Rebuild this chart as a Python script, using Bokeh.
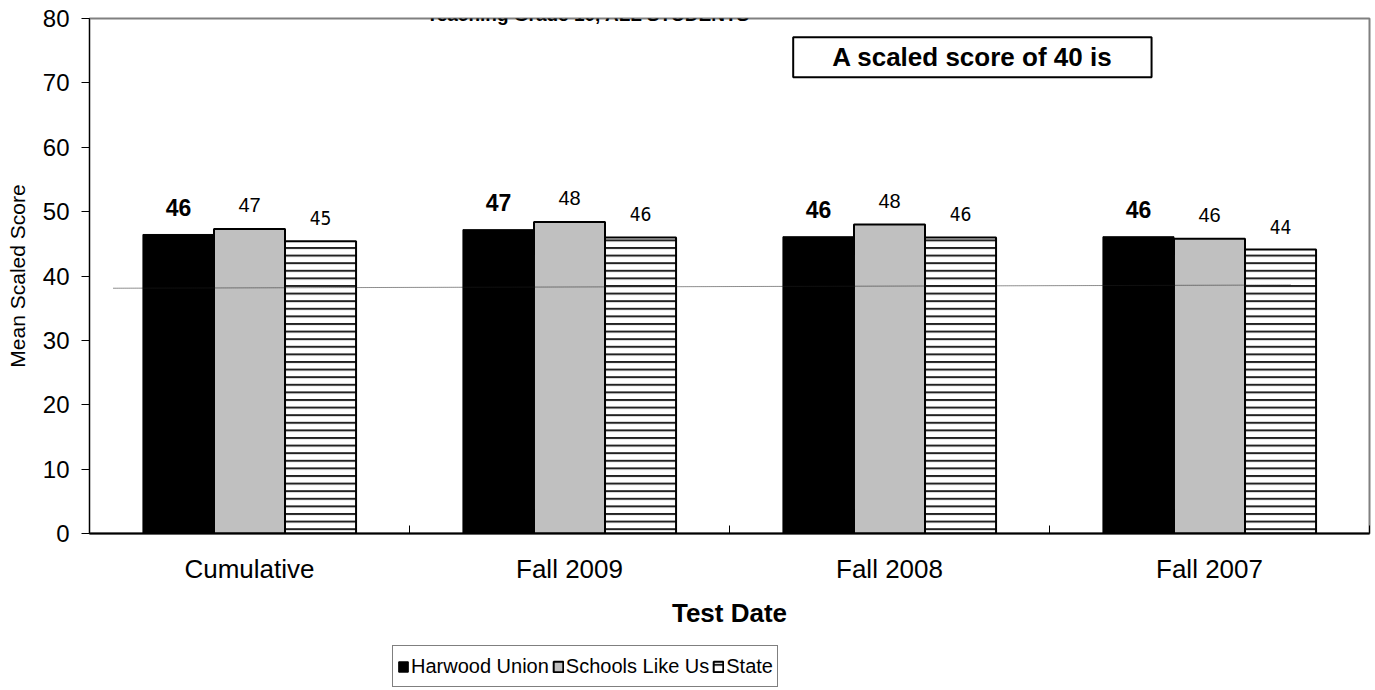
from bokeh.plotting import figure
from bokeh.layouts import column
from bokeh.models import Range1d, FixedTicker, Label, Legend, LegendItem, ColumnDataSource
from bokeh.core.properties import value
from bokeh.embed import file_html
from bokeh.resources import INLINE

# ---- data ----
categories = ["Cumulative", "Fall 2009", "Fall 2008", "Fall 2007"]
harwood = [46.45, 47.2, 46.1, 46.1]
schools = [47.3, 48.4, 48.0, 45.8]
state = [45.4, 46.0, 46.0, 44.1]
harwood_labels = ["46", "47", "46", "46"]
schools_labels = ["47", "48", "48", "46"]
state_labels = ["45", "46", "46", "44"]
series_names = ["Harwood Union", "Schools Like Us", "State"]
ref_x = [0.075, 3.753]
ref_y = [38.1, 38.6]
y_ticks = [0, 10, 20, 30, 40, 50, 60, 70, 80]
title_text = "Teaching Grade 10, ALL STUDENTS"
note_text = "A scaled score of 40 is"

FONT = "Liberation Sans"
NARROW = "'Liberation Sans Narrow', 'DejaVu Sans Condensed', 'Roboto Condensed', 'Liberation Sans', sans-serif"
BW = 0.222
centers = [i + 0.5 for i in range(len(categories))]
bounds = list(range(len(categories) + 1))

H_STYLE = dict(fill_color="black", line_color="black", line_width=1)
S_STYLE = dict(fill_color="#C0C0C0", line_color="black", line_width=2)
T_STYLE = dict(fill_color="white", line_color="black", line_width=2,
               hatch_pattern="horizontal_line", hatch_color="#222222",
               hatch_weight=2, hatch_scale=7.6)

p = figure(width=1372, height=640, output_backend="svg", toolbar_location=None,
           x_range=Range1d(0, len(categories)), y_range=Range1d(0, 80),
           min_border_left=89, min_border_right=3, min_border_top=18, min_border_bottom=107)
p.background_fill_color = "white"
p.border_fill_color = "white"
p.grid.visible = False
p.outline_line_color = "#808080"
p.outline_line_width = 2

def src(vals, labels, off):
    return ColumnDataSource(dict(x=[c + off for c in centers], top=vals, lab=labels))

s_h = src(harwood, harwood_labels, -BW)
s_s = src(schools, schools_labels, 0)
s_t = src(state, state_labels, BW)

p.vbar(x="x", top="top", width=BW, bottom=0, source=s_h, **H_STYLE)
p.vbar(x="x", top="top", width=BW, bottom=0, source=s_s, **S_STYLE)
p.vbar(x="x", top="top", width=BW, bottom=0, source=s_t, **T_STYLE)

p.line(ref_x, ref_y, line_color="#202020", line_width=1, line_dash="1 1")

p.text(x="x", y="top", text="lab", source=s_h, text_align="center", text_baseline="middle",
       y_offset=-27, text_font=value(FONT), text_font_style="bold", text_font_size="23px",
       text_color="black")
p.text(x="x", y="top", text="lab", source=s_s, text_align="center", text_baseline="middle",
       y_offset=-24, text_font=value(FONT), text_font_size="20px", text_color="black")
p.text(x="x", y="top", text="lab", source=s_t, text_align="center", text_baseline="middle",
       y_offset=-23, text_font=value(NARROW), text_font_size="19px", text_color="black")

# axes
ya = p.yaxis[0]
ya.ticker = FixedTicker(ticks=y_ticks)
ya.minor_tick_line_color = None
ya.major_tick_out = 8
ya.major_tick_in = 0
ya.major_tick_line_color = "black"
ya.axis_line_color = "black"
ya.major_label_text_font = FONT
ya.major_label_text_font_size = "24px"
ya.major_label_text_color = "black"
ya.major_label_standoff = 12
ya.axis_label = "Mean Scaled Score"
ya.axis_label_text_font = FONT
ya.axis_label_text_font_style = "normal"
ya.axis_label_text_font_size = "21px"
ya.axis_label_text_color = "black"
ya.axis_label_standoff = 11

xa = p.xaxis[0]
xa.ticker = FixedTicker(ticks=centers, minor_ticks=bounds)
xa.major_label_overrides = {c: n for c, n in zip(centers, categories)}
xa.major_tick_out = 0
xa.major_tick_in = 0
xa.minor_tick_in = 8
xa.minor_tick_out = 0
xa.minor_tick_line_color = "black"
xa.axis_line_color = "black"
xa.axis_line_width = 2
xa.major_label_text_font = FONT
xa.major_label_text_font_size = "26px"
xa.major_label_text_color = "black"
xa.major_label_standoff = 20
xa.axis_label = "Test Date"
xa.axis_label_text_font = FONT
xa.axis_label_text_font_style = "bold"
xa.axis_label_text_font_size = "26px"
xa.axis_label_text_color = "black"
xa.axis_label_standoff = 11

# title
p.add_layout(Label(x=1.559, y=80.62, text=title_text, text_align="center",
                   text_baseline="alphabetic", text_font=FONT, text_font_style="bold",
                   text_font_size="19px", text_color="black"))

# note box
p.add_layout(Label(x=2.759, y=74.0, text=note_text, text_align="center",
                   text_baseline="middle", text_font=FONT, text_font_style="bold",
                   text_font_size="26px", text_color="black",
                   border_line_color="black", border_line_width=2,
                   background_fill_color="white",
                   padding=dict(left=39, right=39, top=5, bottom=5)))

# ---- legend strip (swatch renderers sit hidden behind the legend box) ----
q = figure(width=1372, height=50, output_backend="svg", toolbar_location=None,
           x_range=Range1d(0, 1), y_range=Range1d(0, 1),
           min_border_left=0, min_border_right=0, min_border_top=0, min_border_bottom=0)
q.axis.visible = False
q.grid.visible = False
q.outline_line_color = None
q.background_fill_color = "white"
q.border_fill_color = "white"
g_h = q.vbar(x=[0.387], bottom=[0.4], top=[0.6], width=0.01, **H_STYLE)
g_s = q.vbar(x=[0.387], bottom=[0.4], top=[0.6], width=0.01, **S_STYLE)
g_t = q.vbar(x=[0.387], bottom=[0.4], top=[0.6], width=0.01, **T_STYLE)

legend = Legend(items=[LegendItem(label=series_names[0], renderers=[g_h]),
                       LegendItem(label=series_names[1], renderers=[g_s]),
                       LegendItem(label=series_names[2], renderers=[g_t])],
                orientation="horizontal", location=(303, 3),
                glyph_width=12, glyph_height=13, label_standoff=2, spacing=3,
                padding=4, margin=0, label_height=32,
                label_text_font=FONT, label_text_font_size="20px", label_text_color="black",
                border_line_color="black", border_line_width=1,
                background_fill_color="white", background_fill_alpha=1)
q.add_layout(legend, "center")

open("out.html", "w").write(file_html(column(p, q), INLINE))
